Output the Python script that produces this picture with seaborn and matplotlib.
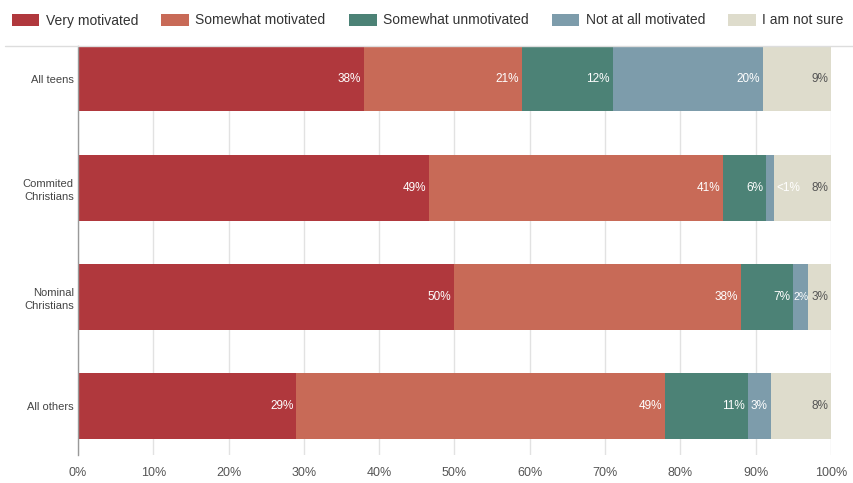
import matplotlib
matplotlib.use("Agg")
import matplotlib.pyplot as plt
import seaborn as sns
import pandas as pd
import numpy as np
from matplotlib.patches import Patch
from matplotlib.lines import Line2D

groups = ["All teens", "Commited\nChristians", "Nominal\nChristians", "All others"]
series = ["Very motivated", "Somewhat motivated", "Somewhat unmotivated",
          "Not at all motivated", "I am not sure"]
very = [38, 49, 50, 29]
somewhat = [21, 41, 38, 49]
unmot = [12, 6, 7, 11]
notall = [20, 1, 2, 3]
unsure = [9, 8, 3, 8]
labels_notall = ["20%", "<1%", "2%", "3%"]
colors = ["#b0383d", "#c86a57", "#4c8276", "#7d9cab", "#dedccc"]
text_colors = ["white", "white", "white", "white", "#555555"]
xticks = [0, 10, 20, 30, 40, 50, 60, 70, 80, 90, 100]

sns.set_theme(style="white")
plt.rcParams["font.family"] = ["Liberation Sans", "DejaVu Sans"]

vals = np.array([very, somewhat, unmot, notall, unsure], dtype=float)
totals = vals.sum(axis=0)
pct = vals / totals * 100
cum = np.cumsum(pct, axis=0)

fig = plt.figure(figsize=(8.54, 4.83), dpi=100)
ax = fig.add_axes([78 / 854, 1 - 455 / 483, (831 - 78) / 854, (455 - 46) / 483])

# draw from the last cumulative series backwards so the stacks overlap correctly
for i in range(len(series) - 1, -1, -1):
    df = pd.DataFrame({"group": groups, "value": cum[i]})
    sns.barplot(data=df, x="value", y="group", orient="h", color=colors[i],
                width=0.6, ax=ax, saturation=1, linewidth=0, zorder=2)

for i in range(len(series)):
    for j, g in enumerate(groups):
        if i == 3:
            lab = labels_notall[j]
        else:
            lab = f"{int(vals[i, j])}%"
        x = cum[i, j] - 0.4
        ha = "right"
        fs = 8.5
        if lab.startswith("<"):
            x = cum[i, j] + 0.3
            ha = "left"
        elif pct[i, j] < 2.5:
            x = cum[i, j] - pct[i, j] / 2
            ha = "center"
            fs = 7.5
        ax.text(x, j, lab, ha=ha, va="center",
                fontsize=fs, color=text_colors[i], zorder=5)

ax.set_xlim(0, 100)
ax.set_ylim(3.45, -0.30)
ax.set_xticks(xticks)
ax.set_xticklabels([f"{t}%" for t in xticks], fontsize=9, color="#555555")
ax.tick_params(axis="x", length=0, pad=9)
ax.tick_params(axis="y", length=0, pad=3, labelsize=8, labelcolor="#444444")
ax.set_xlabel("")
ax.set_ylabel("")
for lab in ax.get_yticklabels():
    lab.set_horizontalalignment("right")
    lab.set_linespacing(1.45)
ax.grid(axis="x", color="#e2e2e2", linewidth=1, zorder=0)
ax.set_axisbelow(True)
for s in ["top", "right", "bottom"]:
    ax.spines[s].set_visible(False)
ax.spines["left"].set_color("#999999")
ax.spines["left"].set_linewidth(1)

fig.add_artist(Line2D([5 / 854, 1], [1 - 46 / 483, 1 - 46 / 483],
                      color="#dddddd", linewidth=1))

handles = [Patch(facecolor=c, edgecolor="none") for c in colors]
fig.legend(handles, series, loc="upper left", bbox_to_anchor=(-1 / 854, 1 - 1 / 483),
           ncol=5, frameon=False, fontsize=10, handlelength=2.0,
           handleheight=1.0, handletextpad=0.45, columnspacing=1.68,
           labelcolor="#333333")

fig.savefig("out.png", dpi=100, facecolor="white")
